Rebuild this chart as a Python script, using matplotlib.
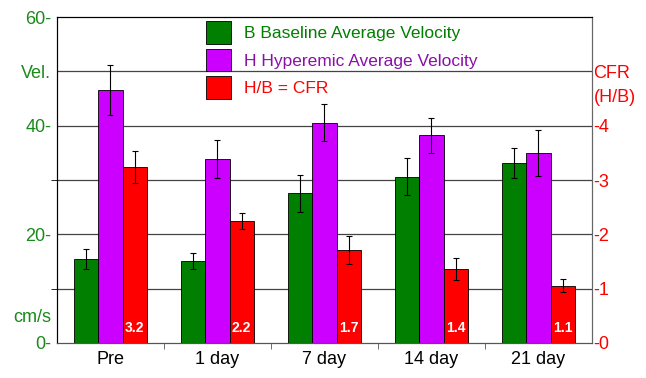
import matplotlib.pyplot as plt
from matplotlib.patches import Patch
from matplotlib.ticker import FixedLocator

plt.rcParams['font.family'] = ['Liberation Sans', 'DejaVu Sans']

days = ['Pre', '1 day', '7 day', '14 day', '21 day']
baseline = [15.5, 15.1, 27.6, 30.6, 33.1]
baseline_err = [1.8, 1.45, 3.4, 3.4, 2.8]
hyperemic = [46.6, 33.9, 40.5, 38.2, 35.0]
hyperemic_err = [4.6, 3.5, 3.4, 3.3, 4.2]
cfr = [3.24, 2.25, 1.71, 1.36, 1.05]
cfr_err = [0.3, 0.15, 0.26, 0.2, 0.12]
cfr_labels = ['3.2', '2.2', '1.7', '1.4', '1.1']

green = '#007f00'
purple = '#cc00ff'
red = '#ff0000'
txt_green = '#1a8a1a'

fig = plt.figure(figsize=(6.46, 3.78), dpi=100)
ax = fig.add_axes([0.0882, 0.0926, 0.8282, 0.8624])
ax2 = ax.twinx()

w = 0.225
x = list(range(len(days)))
ekw = dict(elinewidth=0.8, capthick=0.8, ecolor='black')

ax.bar([i - w for i in x], baseline, w, color=green, edgecolor='black', linewidth=0.6,
       yerr=baseline_err, capsize=2.5, error_kw=ekw, zorder=3)
ax.bar(x, hyperemic, w, color=purple, edgecolor='black', linewidth=0.6,
       yerr=hyperemic_err, capsize=2.5, error_kw=ekw, zorder=3)
ax2.bar([i + w for i in x], cfr, w, color=red, edgecolor='black', linewidth=0.6,
        yerr=cfr_err, capsize=2.5, error_kw=ekw, zorder=3)
for i, lab in enumerate(cfr_labels):
    ax2.text(i + w, 0.27, lab, color='white', fontsize=10, fontweight='bold',
             ha='center', va='center', zorder=4)

# grid lines
for v in [10, 20, 30, 40, 50]:
    ax.axhline(v, color='#444444', linewidth=0.9, zorder=1)

ax.set_xlim(-0.5, 4.5)
ax.set_ylim(0, 60)
ax2.set_ylim(0, 6)

ax.set_xticks(x)
ax.set_xticklabels(days, fontsize=13)
ax.xaxis.set_minor_locator(FixedLocator([0.5, 1.5, 2.5, 3.5]))
ax.tick_params(axis='x', which='major', length=0, pad=6)
ax.tick_params(axis='x', which='minor', length=4, direction='out', color='#555555')

ax.set_yticks([0, 5, 20, 40, 50, 60])
ax.set_yticklabels(['0-', 'cm/s', '20-', '40-', 'Vel.', '60-'], fontsize=13, color=txt_green)
ax.yaxis.set_minor_locator(FixedLocator([10, 30]))
ax.tick_params(axis='y', which='major', length=0, pad=4)
ax.tick_params(axis='y', which='minor', length=4, direction='out', color='black')

ax2.set_yticks([0, 1, 2, 3, 4, 4.55, 5.0])
ax2.set_yticklabels(['-0', '-1', '-2', '-3', '-4', '(H/B)', 'CFR'], fontsize=13, color=red)
ax2.tick_params(axis='y', length=0, pad=1)

for a in (ax, ax2):
    a.spines['top'].set_color('black')
    a.spines['left'].set_color('black')
    a.spines['right'].set_color('#666666')
    a.spines['bottom'].set_color('#555555')

handles = [Patch(facecolor=green, edgecolor='black', linewidth=0.6),
           Patch(facecolor=purple, edgecolor='black', linewidth=0.6),
           Patch(facecolor=red, edgecolor='black', linewidth=0.6)]
labels = ['B Baseline Average Velocity', 'H Hyperemic Average Velocity', 'H/B = CFR']
leg = ax2.legend(handles, labels, loc='upper left', bbox_to_anchor=(0.265, 1.008),
                 frameon=False, fontsize=12.5, handlelength=1.45, handleheight=1.6,
                 handletextpad=0.75, labelspacing=0.3, borderaxespad=0,
                 labelcolor=[green, '#8a10a8', red])
leg.set_zorder(5)

fig.savefig('out.png', dpi=100)
